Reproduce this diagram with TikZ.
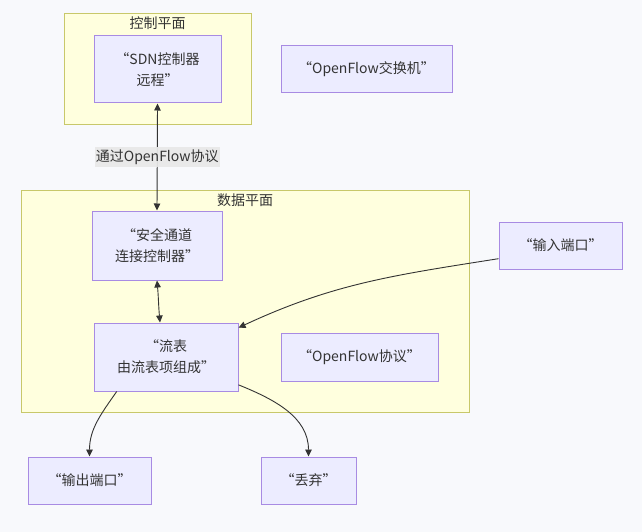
\documentclass[tikz,border=0pt]{standalone}
\usepackage{fontspec}
\setmainfont{Noto Sans CJK SC}
\usetikzlibrary{arrows.meta,calc}
\usepackage{xcolor}

\definecolor{bgcol}{HTML}{F8F9FC}
\definecolor{planefill}{HTML}{FFFFDE}
\definecolor{planeline}{HTML}{C8C86A}
\definecolor{nodefill}{HTML}{ECECFF}
\definecolor{nodeline}{HTML}{A88BE3}
\definecolor{linkcol}{HTML}{333333}
\definecolor{textcol}{HTML}{333333}
\definecolor{labelfill}{HTML}{E8E8E8}

\tikzset{
  box/.style={draw=nodeline, fill=nodefill, line width=1pt, align=center,
    text=textcol, inner sep=0pt, font=\fontsize{14}{21}\selectfont},
  plane/.style={draw=planeline, fill=planefill, line width=1pt, inner sep=0pt},
  title/.style={text=textcol, inner sep=0pt, font=\fontsize{14}{21}\selectfont},
  link/.style={draw=linkcol, line width=0.9pt, -{Triangle[length=7pt,width=6.5pt]}},
  twolink/.style={link, {Triangle[length=7pt,width=6.5pt]}-{Triangle[length=7pt,width=6.5pt]}},
}

\begin{document}
\begin{tikzpicture}[x=1pt,y=-1pt]
  \fill[bgcol] (0,0) rectangle (642,532);
  \useasboundingbox (0,0) rectangle (642,532);

  % planes
  \node[plane, minimum width=187pt, minimum height=111pt] (ctrl) at (157.5,69.5) {};
  \node[title] (ctrltitle) at (157.5,23) {控制平面};
  \node[plane, minimum width=448pt, minimum height=222pt] (data) at (245,301) {};
  \node[title] (datatitle) at (245,200) {数据平面};

  % nodes
  \node[box, minimum width=127pt, minimum height=67pt] (sdn)     at (157.5,69.5) {“SDN控制器\\远程”};
  \node[box, minimum width=171pt, minimum height=47pt] (switch)  at (366.5,69.5) {“OpenFlow交换机”};
  \node[box, minimum width=130pt, minimum height=69pt] (chan)    at (157,245.5)  {“安全通道\\连接控制器”};
  \node[box, minimum width=144pt, minimum height=68pt] (flow)    at (166,357)    {“流表\\由流表项组成”};
  \node[box, minimum width=157pt, minimum height=48pt] (proto)   at (359.5,357)  {“OpenFlow协议”};
  \node[box, minimum width=123pt, minimum height=47pt] (inport)  at (560.5,245.5) {“输入端口”};
  \node[box, minimum width=123pt, minimum height=47pt] (outport) at (89.5,480.5)  {“输出端口”};
  \node[box, minimum width=95pt,  minimum height=47pt] (drop)    at (308.5,480.5) {“丢弃”};

  % links
  \draw[twolink] (sdn.south) -- node[title, fill=labelfill, fill opacity=0.9, text opacity=1,
    inner xsep=1pt, inner ysep=3pt] (protolabel) {通过OpenFlow协议} (chan.north);
  \draw[twolink] (chan.south) to[out=-85, in=95] ([xshift=-6pt]flow.north);
  \draw[link] (inport.192) to[out=189, in=25] (flow.22);
  \draw[link] (flow.215) to[out=235, in=90] (outport.north);
  \draw[link] (flow.-21) to[out=-22, in=90] (drop.north);
\end{tikzpicture}
\end{document}
